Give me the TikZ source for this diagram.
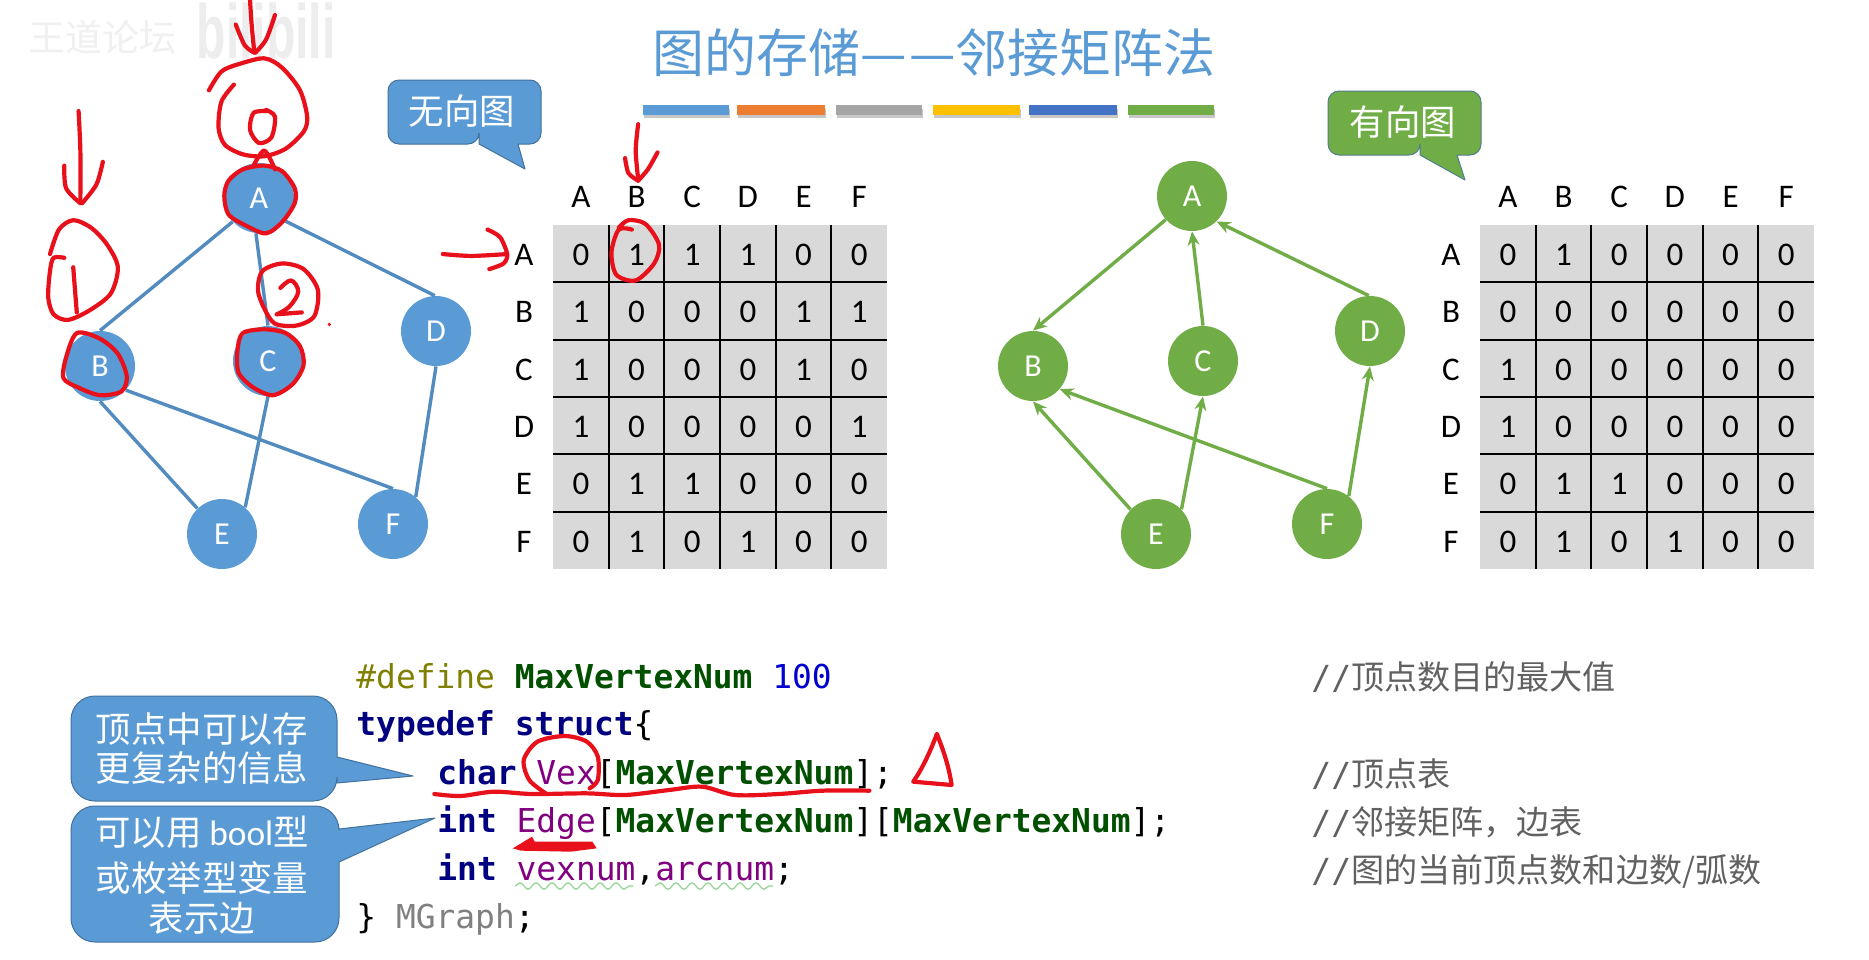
\documentclass[tikz,border=0pt]{standalone}
\usepackage{fontspec}
\usetikzlibrary{arrows.meta,decorations.pathmorphing}
\setmainfont{Carlito}
\newfontfamily\cjk{Noto Sans CJK SC}
\newfontfamily\codefont{DejaVu Sans Mono}
\newfontfamily\wmfont{Liberation Sans}
\newcommand{\fsz}[1]{\fontsize{#1}{#1}\selectfont}
\definecolor{ublue}{HTML}{5B9BD5}
\definecolor{ubluedk}{HTML}{41719C}
\definecolor{ugreen}{HTML}{70AD47}
\definecolor{ugreendk}{HTML}{4E7F8C}
\definecolor{ink}{HTML}{E8101A}
\definecolor{macroc}{HTML}{808000}
\definecolor{constc}{HTML}{005000}
\definecolor{keyc}{HTML}{000080}
\definecolor{varc}{HTML}{800080}
\definecolor{typec}{HTML}{808080}
\definecolor{numc}{HTML}{0000D0}
\tikzset{
  uvert/.style={circle,fill=ublue,inner sep=0pt,minimum size=35pt,text=white,font=\fsz{16}},
  dvert/.style={circle,fill=ugreen,inner sep=0pt,minimum size=35pt,text=white,font=\fsz{16}},
  uedge/.style={draw=ublue!90!black,line width=1.7pt},
  dedge/.style={draw=ugreen,line width=1.7pt,-{Stealth[length=7pt,width=6pt]}},
  cell/.style={inner sep=0pt,font=\fsz{16.5},text=black},
  gridline/.style={draw=black,line width=1pt},
  codeline/.style={anchor=base west,inner sep=0pt,font=\codefont\fsz{16.45}},
  cmtline/.style={anchor=base west,inner sep=0pt,text=black!62,font=\fsz{16.55}},
  pen/.style={draw=ink,line width=2.1pt,line cap=round,line join=round},
  calloutblue/.style={fill=ublue,draw=ubluedk,line width=.5pt,line join=round},
  calloutgreen/.style={fill=ugreen,draw=ugreendk,line width=.5pt,line join=round},
  calltext/.style={text=white,inner sep=0pt,font=\cjk\fsz{17.7},align=center},
  squiggle/.style={draw=green!45!gray!60,line width=.6pt,decorate,decoration={snake,amplitude=1.6,segment length=8}},
}
\newcommand{\kw}[1]{\textcolor{keyc}{\bfseries #1}}
\newcommand{\cst}[1]{\textcolor{constc}{\bfseries #1}}
\newcommand{\var}[1]{\textcolor{varc}{#1}}
% one adjacency table: name, left edge, row labels x, six rows of entries
\newcommand{\adjtable}[4]{%
  \fill[black!15] (#2,225) rectangle (#2+334,569);
  \foreach \k in {1,...,5} {
    \draw[gridline] (#2+55.67*\k,225) -- (#2+55.67*\k,569);
    \draw[gridline] (#2,225+57.33*\k) -- (#2+334,225+57.33*\k);
  }
  \foreach \h [count=\c] in {A,B,C,D,E,F} {
    \node[cell] (#1h\c) at (#2+55.67*\c-27.8,196.5) {\h};
    \node[cell] (#1l\c) at (#3,225+57.33*\c-27.5) {\h};
  }
  \foreach \row [count=\r] in {#4} {
    \foreach \v [count=\c] in \row {
      \node[cell] (#1c\r-\c) at (#2+55.67*\c-27.8,225+57.33*\r-27.5) {\v};
    }
  }%
}
\begin{document}
\begin{tikzpicture}[x=0.5pt,y=-0.5pt]
\useasboundingbox (0,0) rectangle (1869,959);
\fill[white] (0,0) rectangle (1869,959);

% faint channel marks, top left
\node[inner sep=0pt,text=black!6,font=\cjk\fsz{18.5}] (wm1) at (102,37) {王道论坛};
\node[inner sep=0pt,text=black!7,font=\wmfont\bfseries\fsz{24},anchor=base,yscale=1.6,transform shape] (wm2) at (266,58) {bilibili};

% title and colour strip
\node[inner sep=0pt,text=ublue,font=\cjk\fsz{26}] (title) at (934,53) {图的存储—\kern1.5pt—邻接矩阵法};
\foreach \a/\b/\col [count=\i] in {643/729/5B9BD5,737/825/ED7D31,836/922/A5A5A5,933/1020/FFC000,1029/1117/4472C4,1128/1214/70AD47} {
  \definecolor{barc}{HTML}{\col}
  \fill[black!22] (\a+1,109) rectangle (\b+1,118);
  \fill[barc] (\a,105) rectangle (\b,115);
}

% undirected graph
\node[uvert] (A) at (259,198) {A};
\node[uvert] (B) at (100,366) {B};
\node[uvert] (C) at (268,361) {C};
\node[uvert] (D) at (436,331) {D};
\node[uvert] (E) at (222,534) {E};
\node[uvert] (F) at (393,524) {F};
\draw[uedge] (A.222) -- (B.90);
\draw[uedge] (A.-95) -- (C.90);
\draw[uedge] (A.-41) -- (D.92);
\draw[uedge] (B.-90) -- (E.134);
\draw[uedge] (B.-43) -- (F.90);
\draw[uedge] (C.-90) -- (E.49);
\draw[uedge] (D.-90) -- (F.50);

% directed graph
\node[dvert] (gA) at (1192,196) {A};
\node[dvert] (gB) at (1033,366) {B};
\node[dvert] (gC) at (1203,361) {C};
\node[dvert] (gD) at (1370,331) {D};
\node[dvert] (gE) at (1156,534) {E};
\node[dvert] (gF) at (1327,524) {F};
\draw[dedge] (gA.222) -- (gB.90);
\draw[dedge] (gC.90) -- (gA.-90);
\draw[dedge] (gD.92) -- (gA.-46);
\draw[dedge] (gE.136) -- (gB.-90);
\draw[dedge] (gE.44) -- (gC.-90);
\draw[dedge] (gF.90) -- (gB.-41);
\draw[dedge] (gF.52) -- (gD.-90);

% adjacency tables
\adjtable{u}{553}{524}{{0,1,1,1,0,0},{1,0,0,0,1,1},{1,0,0,0,1,0},{1,0,0,0,0,1},{0,1,1,0,0,0},{0,1,0,1,0,0}}
\adjtable{d}{1480}{1451}{{0,1,0,0,0,0},{0,0,0,0,0,0},{1,0,0,0,0,0},{1,0,0,0,0,0},{0,1,1,0,0,0},{0,1,0,1,0,0}}

% speech bubbles
\draw[calloutblue] (479,144) -- (525,169) -- (518,144) [rounded corners=5.5pt] -- (541,144) -- (541,80) -- (388,80) -- (388,144) -- (479,144) [sharp corners] -- cycle;
\node[calltext] (lblU) at (462,111) {无向图};
\draw[calloutgreen] (1420,155) -- (1465,180) -- (1457,155) [rounded corners=5.5pt] -- (1481,155) -- (1481,91) -- (1328,91) -- (1328,155) -- (1420,155) [sharp corners] -- cycle;
\node[calltext] (lblD) at (1403,122) {有向图};
\draw[calloutblue] (337,757) -- (413,776) -- (337,783) [rounded corners=12pt] -- (337,801) -- (71,801) -- (71,696) -- (337,696) [sharp corners] -- (337,757) -- cycle;
\node[calltext] (note1a) at (202,729) {顶点中可以存};
\node[calltext] (note1b) at (202,768) {更复杂的信息};
\draw[calloutblue] (339,829) -- (435,818) -- (339,862) [rounded corners=12pt] -- (339,942) -- (71,942) -- (71,806) -- (339,806) [sharp corners] -- (339,829) -- cycle;
\node[calltext] (note2a) at (202,832) {可以用 {\normalfont bool}型};
\node[calltext] (note2b) at (202,878) {或枚举型变量};
\node[calltext] (note2c) at (202,918) {表示边};

% source listing
\node[codeline] (c1) at (356,688) {\textcolor{macroc}{\#define} \cst{MaxVertexNum} \textcolor{numc}{100}};
\node[codeline] (c2) at (356,735) {\kw{typedef} \kw{struct}\{};
\node[codeline] (c3) at (437,784) {\kw{char} \var{Vex}[\cst{MaxVertexNum}];};
\node[codeline] (c4) at (437,832) {\kw{int} \var{Edge}[\cst{MaxVertexNum}][\cst{MaxVertexNum}];};
\node[codeline] (c5) at (437,880) {\kw{int} \var{vexnum},\var{arcnum};};
\node[codeline] (c6) at (356,928) {\} \textcolor{typec}{MGraph};};
\draw[squiggle] (515,886) -- (633,886);
\draw[squiggle] (655,886) -- (773,886);

% trailing comments
\node[cmtline] (k1) at (1311,689) {{\codefont //}{\cjk 顶点数目的最大值}};
\node[cmtline] (k2) at (1311,786) {{\codefont //}{\cjk 顶点表}};
\node[cmtline] (k3) at (1311,834) {{\codefont //}{\cjk 邻接矩阵，边表}};
\node[cmtline] (k4) at (1311,882) {{\codefont //}{\cjk 图的当前顶点数和边数/弧数}};

% pen strokes over the left graph
\begin{scope}[x=0.17857pt,y=-0.18818pt]
  \draw[pen] plot[smooth] coordinates {(700,0) (705,70) (712,138)};
  \draw[pen] plot[smooth] coordinates {(660,65) (685,120) (712,140)};
  \draw[pen] plot[smooth] coordinates {(770,40) (745,105) (715,140)};
  \draw[pen] plot[smooth] coordinates {(585,240) (620,190) (670,170) (740,155) (790,180) (840,240) (860,310) (850,350) (800,395) (740,415) (680,410) (630,385) (612,340) (620,270) (655,225)};
  \draw[pen] plot[smooth] coordinates {(750,295) (710,300) (700,345) (725,380) (760,365) (770,310) (745,292)};
  \draw[pen] plot[smooth] coordinates {(710,440) (740,400) (770,450)};
  \draw[pen] plot[smooth cycle] coordinates {(640,480) (680,450) (740,440) (790,455) (825,500) (825,540) (790,590) (745,620) (690,600) (640,570) (628,520)};
  \draw[pen] plot[smooth] coordinates {(220,295) (225,400) (225,535)};
  \draw[pen] plot[smooth] coordinates {(180,440) (185,500) (225,540)};
  \draw[pen] plot[smooth] coordinates {(288,430) (270,490) (230,540)};
  \draw[pen] plot[smooth] coordinates {(140,675) (165,610) (205,585) (255,605) (300,650) (330,710) (310,780) (250,825) (190,850) (150,835) (135,790) (140,720) (150,685) (180,685)};
  \draw[pen] plot[smooth] coordinates {(205,710) (210,770) (215,830)};
  \draw[pen] plot[smooth cycle] coordinates {(215,885) (280,900) (330,940) (355,1000) (340,1040) (280,1050) (220,1030) (178,1005) (185,950)};
  \draw[pen] plot[smooth cycle] coordinates {(735,720) (790,700) (850,715) (890,770) (880,840) (830,865) (770,860) (740,820) (722,770)};
  \draw[pen] plot[smooth,tension=.6] coordinates {(785,765) (815,745) (835,775) (810,815) (775,835)};
  \draw[pen] (775,835) -- (845,830);
  \fill[ink] (922,862) circle[radius=5];
  \draw[pen] plot[smooth cycle] coordinates {(680,885) (740,875) (800,885) (840,920) (850,970) (820,1020) (765,1050) (710,1030) (668,990) (665,930)};
  \draw[pen] plot[smooth] coordinates {(1240,675) (1320,680) (1420,675)};
  \draw[pen] plot[smooth] coordinates {(1365,610) (1400,630) (1420,675) (1410,700) (1370,715)};
\end{scope}

% pen strokes over the first table
\begin{scope}[xshift=250pt,x=0.24237pt,y=-0.18818pt]
  \draw[pen] plot[smooth] coordinates {(285,330) (280,400) (285,475)};
  \draw[pen] plot[smooth] coordinates {(258,420) (265,460) (285,480)};
  \draw[pen] plot[smooth] coordinates {(325,405) (305,450) (285,480)};
  \draw[pen] plot[smooth] coordinates {(272,610) (245,610) (230,670) (240,730) (280,745) (318,700) (328,650) (300,595) (265,585) (245,605)};
\end{scope}

% pen strokes over the listing
\begin{scope}[xshift=170pt,yshift=-320pt,x=0.27427pt,y=-0.16667pt]
  \draw[pen] plot[smooth] coordinates {(172,462) (220,468) (280,455) (350,462) (450,460) (520,465) (600,450) (660,440) (720,465) (800,462) (880,452) (965,452)};
  \draw[pen] plot[smooth] coordinates {(375,460) (345,420) (335,360) (360,305) (410,288) (450,305) (470,350) (470,420) (455,445)};
  \draw[pen] (1088,282) .. controls (1075,340) and (1060,390) .. (1045,425) -- (1115,435) .. controls (1110,380) and (1100,330) .. (1088,282);
  \fill[ink] (315,625) -- (350,590) -- (355,605) -- (460,605) -- (468,625) -- (420,635) -- (330,632) -- cycle;
\end{scope}
\end{tikzpicture}
\end{document}
